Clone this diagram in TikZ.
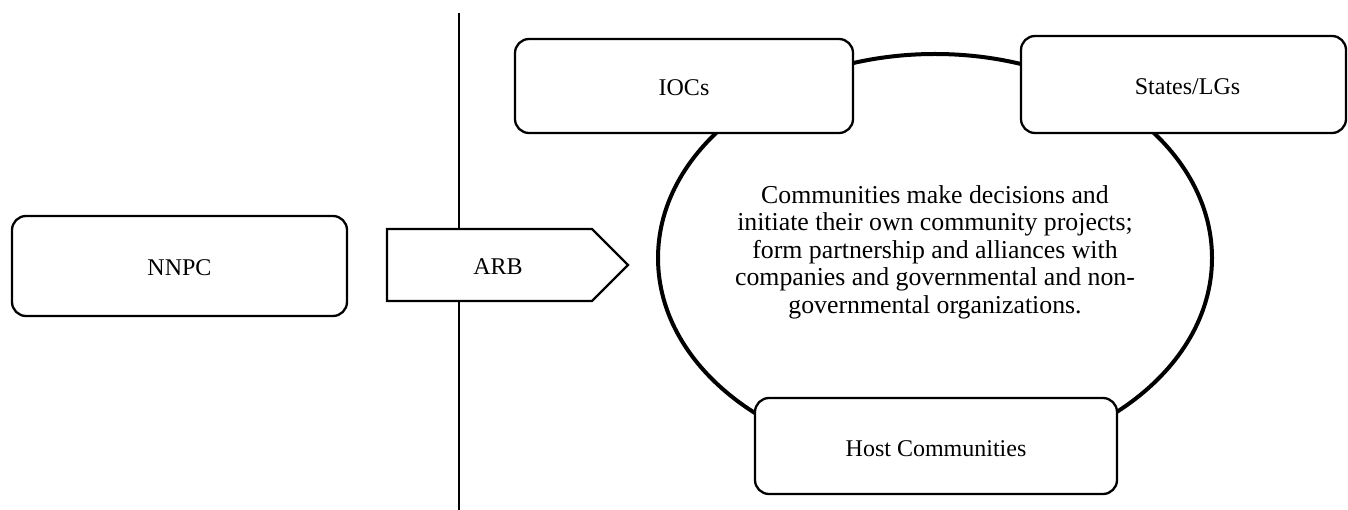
\documentclass[tikz,border=0pt]{standalone}
\usepackage{fontspec}
\setmainfont{Liberation Serif}
\usetikzlibrary{shapes.geometric}
\begin{document}
\begin{tikzpicture}[x=1pt,y=-1pt,
  boxnode/.style={draw=black,line width=2.3pt,rounded corners=14pt,fill=white,inner sep=0pt,
    text height=20pt,text depth=0pt,font=\fontsize{24}{28.5}\selectfont},
  txt/.style={inner sep=0pt,font=\fontsize{24}{28.5}\selectfont}]
\useasboundingbox[fill=white] (0,0) rectangle (1348,510);
% vertical divider
\coordinate (vtop) at (459,13);
\coordinate (vbot) at (459,510);
\draw[line width=2.6pt] (vtop) -- (vbot);
% ellipse
\node[draw=black,line width=4pt,ellipse,minimum width=554pt,minimum height=408pt,inner sep=0pt] (ell) at (935,258) {};
% boxes
\node[boxnode,minimum width=335pt,minimum height=100pt] (nnpc) at (179.5,266) {NNPC};
\node[boxnode,minimum width=338pt,minimum height=94pt] (iocs) at (684,86) {IOCs};
\node[boxnode,minimum width=325pt,minimum height=97pt] (states) at (1183.5,84.5) {\hspace*{8pt}States/LGs};
\node[boxnode,minimum width=362pt,minimum height=96pt] (host) at (936,446) {Host Communities};
% ARB arrow
\coordinate (a1) at (387,229);
\coordinate (a2) at (592,229);
\coordinate (a3) at (628,265);
\coordinate (a4) at (592,301);
\coordinate (a5) at (387,301);
\draw[line width=2.3pt,fill=white,line join=miter] (a1) -- (a2) -- (a3) -- (a4) -- (a5) -- cycle;
\node[txt] (arb) at (498,267) {ARB};
% ellipse text
\node[inner sep=0pt,align=center,font=\fontsize{25.8}{27.5}\selectfont] (etext) at (935,252) {Communities make decisions and\\initiate their own community projects;\\form partnership and alliances with\\companies and governmental and non-\\governmental organizations.};
\end{tikzpicture}
\end{document}
